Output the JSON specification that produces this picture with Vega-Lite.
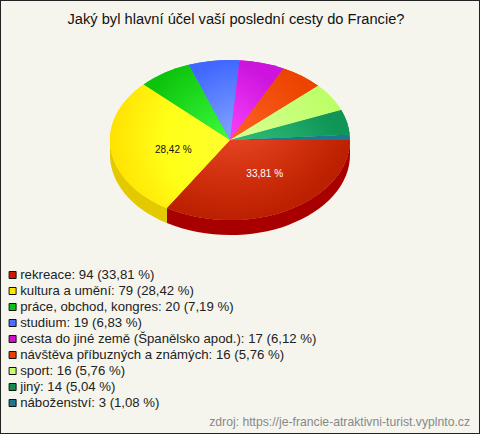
{
"$schema":"https://vega.github.io/schema/vega-lite/v6.json",
"width":480,"height":434,"padding":0,"autosize":{"type":"none"},
"background":"#F5F5EE",
"view":{"stroke":"#222222","strokeWidth":2,"fill":"#F5F5EE"},
"title":{"text":"Jaký byl hlavní účel vaší poslední cesty do Francie?","font":"Liberation Sans","fontSize":14.65,"fontWeight":"normal","color":"#111111","anchor":"middle","frame":"group","dx":-4,"offset":-27},
"config":{"font":"Liberation Sans"},
"data":{"values":[
{"oblast":"rekreace","pocet":94,"podil":"33,81 %","popisek":"rekreace: 94 (33,81 %)"},
{"oblast":"kultura a umění","pocet":79,"podil":"28,42 %","popisek":"kultura a umění: 79 (28,42 %)"},
{"oblast":"práce, obchod, kongres","pocet":20,"podil":"7,19 %","popisek":"práce, obchod, kongres: 20 (7,19 %)"},
{"oblast":"studium","pocet":19,"podil":"6,83 %","popisek":"studium: 19 (6,83 %)"},
{"oblast":"cesta do jiné země (Španělsko apod.)","pocet":17,"podil":"6,12 %","popisek":"cesta do jiné země (Španělsko apod.): 17 (6,12 %)"},
{"oblast":"návštěva příbuzných a známých","pocet":16,"podil":"5,76 %","popisek":"návštěva příbuzných a známých: 16 (5,76 %)"},
{"oblast":"sport","pocet":16,"podil":"5,76 %","popisek":"sport: 16 (5,76 %)"},
{"oblast":"jiný","pocet":14,"podil":"5,04 %","popisek":"jiný: 14 (5,04 %)"},
{"oblast":"náboženství","pocet":3,"podil":"1,08 %","popisek":"náboženství: 3 (1,08 %)"}
]},
"layer":[
{"transform":[{"filter":"datum.oblast=='rekreace'"}],
 "mark":{"type":"point","filled":true,"opacity":1,"size":4,"xOffset":-10,"yOffset":-77,"fill":"#A80000","shape":"M120,0A120,80 0 0 1 -63.1,68.05L-63.1,83.05A120,80 0 0 0 120,15Z"},"encoding":{}},
{"transform":[{"filter":"datum.oblast=='kultura a umění'"}],
 "mark":{"type":"point","filled":true,"opacity":1,"size":4,"xOffset":-10,"yOffset":-77,"fill":"#E3C900","shape":"M-63.1,68.05A120,80 0 0 1 -120,0L-120,15A120,80 0 0 0 -63.1,83.05Z"},"encoding":{}},
{"mark":{"type":"point","filled":true,"opacity":1,"size":4,"xOffset":-10,"yOffset":-77},
 "encoding":{
  "shape":{"field":"oblast","type":"nominal","legend":null,"scale":{
   "domain":["rekreace","kultura a umění","práce, obchod, kongres","studium","cesta do jiné země (Španělsko apod.)","návštěva příbuzných a známých","sport","jiný","náboženství"],
   "range":[
    "M0,0L120,0A120,80 0 0 1 -63.1,68.05Z",
    "M0,0L-63.1,68.05A120,80 0 0 1 -86.3,-55.58Z",
    "M0,0L-86.3,-55.58A120,80 0 0 1 -41.18,-75.14Z",
    "M0,0L-41.18,-75.14A120,80 0 0 1 9.48,-79.75Z",
    "M0,0L9.48,-79.75A120,80 0 0 1 53.64,-71.56Z",
    "M0,0L53.64,-71.56A120,80 0 0 1 88.14,-54.29Z",
    "M0,0L88.14,-54.29A120,80 0 0 1 111.25,-29.98Z",
    "M0,0L111.25,-29.98A120,80 0 0 1 119.72,-5.42Z",
    "M0,0L119.72,-5.42A120,80 0 0 1 120,0Z"]}},
  "color":{"field":"popisek","type":"nominal","scale":{
   "domain":["rekreace: 94 (33,81 %)","kultura a umění: 79 (28,42 %)","práce, obchod, kongres: 20 (7,19 %)","studium: 19 (6,83 %)","cesta do jiné země (Španělsko apod.): 17 (6,12 %)","návštěva příbuzných a známých: 16 (5,76 %)","sport: 16 (5,76 %)","jiný: 14 (5,04 %)","náboženství: 3 (1,08 %)"],
   "range":["#CC1A00","#FFE600","#10C010","#4A70FF","#CC10CC","#E84000","#C8FF70","#109050","#1A7890"]},
   "legend":{"title":null,"orient":"none","legendX":6,"legendY":268,"padding":0,"symbolType":"square","symbolSize":49,"symbolStrokeColor":"#111111","symbolStrokeWidth":1,"symbolOpacity":1,"labelFont":"Liberation Sans","labelFontSize":13.2,"labelColor":"#222222","labelLimit":0,"labelOffset":1,"rowPadding":2,"clipHeight":14,"columnPadding":0}}
 }},
{"transform":[{"filter":"datum.oblast=='rekreace'"}],"mark":{"type":"point","filled":true,"opacity":1,"size":4,"xOffset":-10,"yOffset":-77,"fill":{"gradient":"radial","x1":0.345,"y1":0,"r1":0,"x2":0.345,"y2":0,"r2":0.72,"stops":[{"offset":0,"color":"#FF5A3C"},{"offset":0.75,"color":"#CC2C0A"},{"offset":1,"color":"#BB2000"}]}},"encoding":{"shape":{"field":"oblast","type":"nominal","legend":null}}},
{"transform":[{"filter":"datum.oblast=='kultura a umění'"}],"mark":{"type":"point","filled":true,"opacity":1,"size":4,"xOffset":-10,"yOffset":-77,"fill":{"gradient":"radial","x1":1,"y1":0.45,"r1":0,"x2":1,"y2":0.45,"r2":1,"stops":[{"offset":0,"color":"#FFFF30"},{"offset":0.55,"color":"#FFFF18"},{"offset":1,"color":"#FFE000"}]}},"encoding":{"shape":{"field":"oblast","type":"nominal","legend":null}}},
{"transform":[{"filter":"datum.oblast=='práce, obchod, kongres'"}],"mark":{"type":"point","filled":true,"opacity":1,"size":4,"xOffset":-10,"yOffset":-77,"fill":{"gradient":"radial","x1":1,"y1":1,"r1":0,"x2":1,"y2":1,"r2":1.1,"stops":[{"offset":0,"color":"#40FF40"},{"offset":1,"color":"#0CC40C"}]}},"encoding":{"shape":{"field":"oblast","type":"nominal","legend":null}}},
{"transform":[{"filter":"datum.oblast=='studium'"}],"mark":{"type":"point","filled":true,"opacity":1,"size":4,"xOffset":-10,"yOffset":-77,"fill":{"gradient":"radial","x1":0.813,"y1":1,"r1":0,"x2":0.813,"y2":1,"r2":1,"stops":[{"offset":0,"color":"#88A8FF"},{"offset":1,"color":"#4068FF"}]}},"encoding":{"shape":{"field":"oblast","type":"nominal","legend":null}}},
{"transform":[{"filter":"datum.oblast=='cesta do jiné země (Španělsko apod.)'"}],"mark":{"type":"point","filled":true,"opacity":1,"size":4,"xOffset":-10,"yOffset":-77,"fill":{"gradient":"radial","x1":0,"y1":1,"r1":0,"x2":0,"y2":1,"r2":1,"stops":[{"offset":0,"color":"#FF48FF"},{"offset":1,"color":"#CC14DD"}]}},"encoding":{"shape":{"field":"oblast","type":"nominal","legend":null}}},
{"transform":[{"filter":"datum.oblast=='návštěva příbuzných a známých'"}],"mark":{"type":"point","filled":true,"opacity":1,"size":4,"xOffset":-10,"yOffset":-77,"fill":{"gradient":"radial","x1":0,"y1":1,"r1":0,"x2":0,"y2":1,"r2":1.1,"stops":[{"offset":0,"color":"#FF6428"},{"offset":1,"color":"#EC4400"}]}},"encoding":{"shape":{"field":"oblast","type":"nominal","legend":null}}},
{"transform":[{"filter":"datum.oblast=='sport'"}],"mark":{"type":"point","filled":true,"opacity":1,"size":4,"xOffset":-10,"yOffset":-77,"fill":{"gradient":"radial","x1":0,"y1":1,"r1":0,"x2":0,"y2":1,"r2":1.1,"stops":[{"offset":0,"color":"#E0FFA0"},{"offset":1,"color":"#BBFF66"}]}},"encoding":{"shape":{"field":"oblast","type":"nominal","legend":null}}},
{"transform":[{"filter":"datum.oblast=='jiný'"}],"mark":{"type":"point","filled":true,"opacity":1,"size":4,"xOffset":-10,"yOffset":-77,"fill":{"gradient":"radial","x1":0,"y1":1,"r1":0,"x2":0,"y2":1,"r2":1,"stops":[{"offset":0,"color":"#40D090"},{"offset":1,"color":"#0F9555"}]}},"encoding":{"shape":{"field":"oblast","type":"nominal","legend":null}}},
{"transform":[{"filter":"datum.oblast=='rekreace'"}],"mark":{"type":"text","font":"Liberation Sans","fontSize":10,"color":"#FFFFFF","xOffset":24.7,"yOffset":-43,"align":"center","baseline":"middle"},"encoding":{"text":{"field":"podil"}}},
{"transform":[{"filter":"datum.oblast=='kultura a umění'"}],"mark":{"type":"text","font":"Liberation Sans","fontSize":10,"color":"#111111","xOffset":-66.7,"yOffset":-67,"align":"center","baseline":"middle"},"encoding":{"text":{"field":"podil"}}},
{"data":{"values":[{"zdroj":"zdroj: https://je-francie-atraktivni-turist.vyplnto.cz"}]},"mark":{"type":"text","font":"Liberation Sans","fontSize":12.2,"color":"#888888","xOffset":230,"yOffset":205,"align":"right","baseline":"middle"},"encoding":{"text":{"field":"zdroj"}}}
]
}
